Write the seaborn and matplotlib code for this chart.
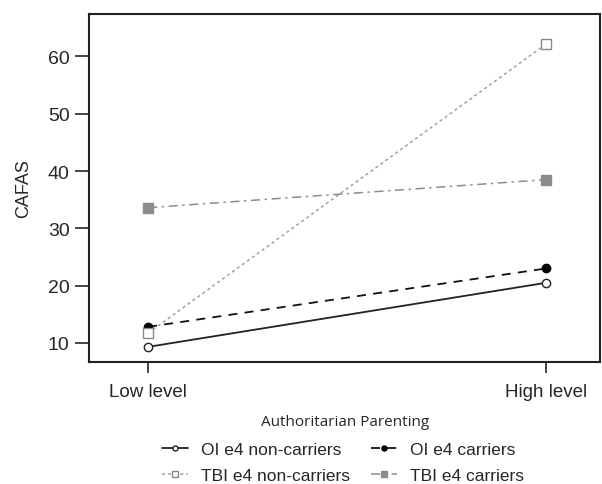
import pandas as pd
import seaborn as sns
import matplotlib.pyplot as plt

# Data
levels = ["Low level", "High level"]
oi_non_carriers = [9.3, 20.5]
oi_carriers = [12.8, 23.0]
tbi_non_carriers = [11.7, 62.2]
tbi_carriers = [33.6, 38.5]

groups = ["OI e4 non-carriers", "OI e4 carriers", "TBI e4 non-carriers", "TBI e4 carriers"]
values = [oi_non_carriers, oi_carriers, tbi_non_carriers, tbi_carriers]

rows = []
for g, vals in zip(groups, values):
    for i, v in enumerate(vals):
        rows.append({"group": g, "x": i, "CAFAS": v})
df = pd.DataFrame(rows)

styles = {
    "OI e4 non-carriers": dict(color="#222222", marker="o", mfc="white", mec="#222222", ls="-", ms=6, lw=1.3),
    "OI e4 carriers": dict(color="#111111", marker="o", mfc="black", mec="black", ls=(0, (5, 4)), ms=6, lw=1.3),
    "TBI e4 non-carriers": dict(color="#a0a0a0", marker="s", mfc="white", mec="#8a8a8a", ls=(0, (2, 2)), ms=7, lw=1.1),
    "TBI e4 carriers": dict(color="#8c8c8c", marker="s", mfc="#8c8c8c", mec="#8c8c8c", ls=(0, (6, 3, 1.5, 3)), ms=7, lw=1.1),
}

sns.set_style("white")
plt.rcParams['font.family'] = ['Liberation Sans', 'DejaVu Sans']

fig = plt.figure(figsize=(6.02, 4.85), dpi=100)
ax = fig.add_axes([0.148, 0.252, 0.849, 0.717])

for g in groups:
    s = styles[g]
    sub = df[df["group"] == g]
    sns.lineplot(data=sub, x="x", y="CAFAS", ax=ax, label=g,
                 color=s["color"], marker=s["marker"], markerfacecolor=s["mfc"],
                 markeredgecolor=s["mec"], linestyle=s["ls"], markersize=s["ms"],
                 linewidth=s["lw"], markeredgewidth=1.0)

ax.set_xlim(-0.148, 1.135)
ax.set_ylim(6.7, 67.4)
ax.set_xticks([0, 1])
ax.set_xticklabels(levels, fontsize=13.5)
ax.set_yticks([10, 20, 30, 40, 50, 60])
ax.tick_params(axis="y", labelsize=14, length=10, width=1.2, direction="out", left=True, pad=4)
ax.tick_params(axis="x", length=8, width=1.2, direction="out", bottom=True, pad=7)
for sp in ax.spines.values():
    sp.set_linewidth(1.5)
    sp.set_color("#222222")

ax.set_ylabel("CAFAS", fontsize=13, labelpad=11)
ax.set_xlabel("Authoritarian Parenting", fontsize=11, labelpad=10, family=["Open Sans", "DejaVu Sans"])

handles, labels = ax.get_legend_handles_labels()
ax.get_legend().remove()
order = [0, 2, 1, 3]
fig.legend([handles[i] for i in order], [labels[i] for i in order],
           loc="lower center", bbox_to_anchor=(0.57, -0.03), ncol=2,
           frameon=False, fontsize=12.5, handlelength=1.5, handletextpad=0.75,
           columnspacing=1.2, labelspacing=0.6, markerscale=0.6)

fig.savefig("out.png", dpi=100)
